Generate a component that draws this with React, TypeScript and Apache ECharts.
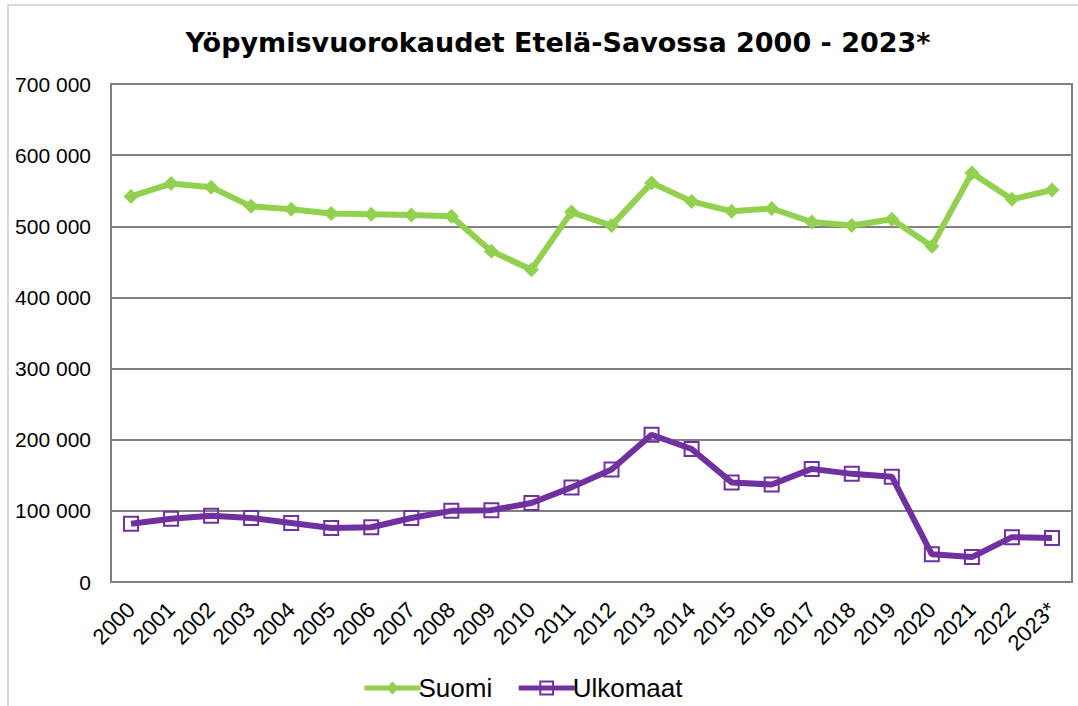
import React, { useEffect, useRef } from "react";
import * as echarts from "echarts";

const years = ["2000","2001","2002","2003","2004","2005","2006","2007","2008","2009","2010","2011","2012","2013","2014","2015","2016","2017","2018","2019","2020","2021","2022","2023*"];
const suomi = [542000,560000,555000,528000,524000,518000,517000,516000,514000,465000,439000,520000,501000,561000,535000,521000,525000,506000,501000,510000,472000,575000,538000,551000];
const ulkomaat = [82000,89000,93000,90000,83000,76000,77000,90000,100000,101000,111000,133000,158000,207000,187000,140000,137000,159000,152000,148000,39000,35000,63000,62000];
const yTicks = { min: 0, max: 700000, interval: 100000 };
const titleText = "Yöpymisvuorokaudet Etelä-Savossa 2000 - 2023*";

function fmt(v: number): string {
  return String(v).replace(/\B(?=(\d{3})+(?!\d))/g, " ");
}

export default function App() {
  const ref = useRef<HTMLDivElement>(null);
  useEffect(() => {
    document.body.style.margin = "0";
    const chart = echarts.init(ref.current!, null, { renderer: "svg" });
    chart.setOption({
      animation: false,
      backgroundColor: "#fff",
      graphic: [
        {
          type: "rect",
          shape: { x: 8, y: 5, width: 1200, height: 800 },
          style: { fill: "none", stroke: "#d9d9d9", lineWidth: 2 },
          silent: true,
        },
      ],
      title: {
        text: titleText,
        left: 553,
        textAlign: "center",
        top: 24,
        textStyle: { fontFamily: "DejaVu Sans", fontWeight: "bold", fontSize: 27, color: "#000" },
      },
      legend: {
        top: 670,
        left: 357,
        itemWidth: 56,
        itemHeight: 16,
        itemGap: 24,
        lineStyle: { width: 5 },
        textStyle: { fontFamily: "Liberation Sans, Arial", fontSize: 26, color: "#000", padding: [0, 0, 0, -7] },
        data: ["Suomi", "Ulkomaat"],
      },
      grid: { left: 111, top: 84, right: 6, bottom: 124, show: true, borderColor: "#808080", borderWidth: 2, containLabel: false },
      xAxis: {
        type: "category",
        data: years,
        boundaryGap: true,
        axisLine: { show: true, lineStyle: { color: "#808080", width: 2 } },
        axisTick: { show: false },
        axisLabel: { rotate: 45, interval: 0, margin: 24, fontFamily: "Liberation Sans, Arial", fontSize: 22, color: "#000" },
      },
      yAxis: {
        type: "value",
        min: yTicks.min,
        max: yTicks.max,
        interval: yTicks.interval,
        axisLine: { show: true, lineStyle: { color: "#808080", width: 2 } },
        axisTick: { show: false },
        splitLine: { lineStyle: { color: "#808080", width: 2 } },
        axisLabel: { margin: 20, fontFamily: "Liberation Sans, Arial", fontSize: 21, color: "#000", formatter: (v: number) => fmt(v) },
      },
      series: [
        {
          name: "Suomi",
          type: "line",
          data: suomi,
          symbol: "diamond",
          symbolSize: 15,
          lineStyle: { color: "#92D050", width: 6 },
          itemStyle: { color: "#92D050" },
        },
        {
          name: "Ulkomaat",
          type: "line",
          data: ulkomaat,
          symbol: "rect",
          symbolSize: 14,
          showAllSymbol: true,
          lineStyle: { color: "#7030A0", width: 6 },
          itemStyle: { color: "rgba(255,255,255,0)", borderColor: "#7030A0", borderWidth: 2 },
        },
      ],
    });
    return () => chart.dispose();
  }, []);
  return <div ref={ref} style={{ position: "absolute", left: 0, top: 0, width: 1078, height: 706 }} />;
}
